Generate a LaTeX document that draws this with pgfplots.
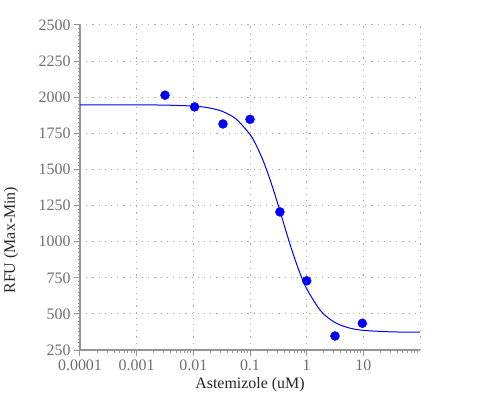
\documentclass[border=0pt]{standalone}
\usepackage{pgfplots}
\pgfplotsset{compat=1.18}
\usepackage{fontspec}
\setmainfont{Liberation Serif}
\definecolor{axgray}{RGB}{150,150,150}
\definecolor{lblgray}{RGB}{110,110,110}
\definecolor{gridgray}{RGB}{170,170,170}
\begin{document}
\begin{tikzpicture}[x=1bp,y=1bp]
\path[use as bounding box] (0,0) rectangle (500,400);
\begin{axis}[
  at={(80bp,50bp)}, anchor=south west,
  scale only axis, width=340bp, height=325bp,
  xmode=log, xmin=1e-4, xmax=100,
  ymin=250, ymax=2500,
  xtick={1e-4,1e-3,1e-2,1e-1,1,10},
  xticklabels={0.0001,0.001,0.01,0.1,1,10},
  minor xtick={2e-4,3e-4,4e-4,5e-4,6e-4,7e-4,8e-4,9e-4,
    2e-3,3e-3,4e-3,5e-3,6e-3,7e-3,8e-3,9e-3,
    0.02,0.03,0.04,0.05,0.06,0.07,0.08,0.09,
    0.2,0.3,0.4,0.5,0.6,0.7,0.8,0.9,
    2,3,4,5,6,7,8,9,20,30,40,50,60,70,80,90},
  extra x ticks={100}, extra x tick labels={},
  extra x tick style={major tick length=0pt, grid=major},
  ytick={250,500,...,2500},
  minor y tick num=9,
  axis x line*=bottom, axis y line*=left,
  axis line style={-, axgray, line width=1.6bp},
  tick style={axgray, line width=1bp},
  tick align=outside,
  major tick length=6bp, minor tick length=2.5bp,
  xmajorgrids, ymajorgrids,
  major grid style={gridgray, line width=1bp, dash pattern=on 1.2bp off 5bp},
  ticklabel style={font=\fontsize{16}{18}\selectfont, text=lblgray},
  /pgf/number format/assume math mode=true,
  /pgf/number format/1000 sep={},
  xlabel={Astemizole (uM)},
  ylabel={RFU (Max-Min)},
  label style={font=\fontsize{16}{18}\selectfont, text=black!85},
  xlabel style={at={(axis description cs:0.5,-0.108)}, anchor=center},
  ylabel style={at={(axis description cs:-0.203,0.338)}, anchor=center},
  clip=false,
]
\addplot[blue, line width=1bp, mark=none, smooth] coordinates {
(0.0001,1947.0) (0.001,1946.7) (0.00316,1945.4) (0.01,1938.7)
(0.0178,1927.9) (0.0316,1903.7) (0.0562,1850.7) (0.1,1741.7)
(0.1334,1654.8) (0.1778,1542.4) (0.2371,1405.1) (0.3162,1249.4)
(0.4217,1085.5) (0.5623,928.0) (0.7499,788.7) (1,674.1)
(1.778,519.4) (3.162,440.1) (5.623,402.8) (10,386.1)
(31.62,375.5) (100,373.5)
};
\addplot[only marks, mark=*, mark size=4.5bp, blue, mark options={fill=blue, draw=blue}] coordinates {
(0.00316,2014) (0.0105,1933) (0.0333,1815) (0.1,1847)
(0.337,1206) (1,729) (3.16,347) (9.6,435)
};
\end{axis}
\end{tikzpicture}
\end{document}
